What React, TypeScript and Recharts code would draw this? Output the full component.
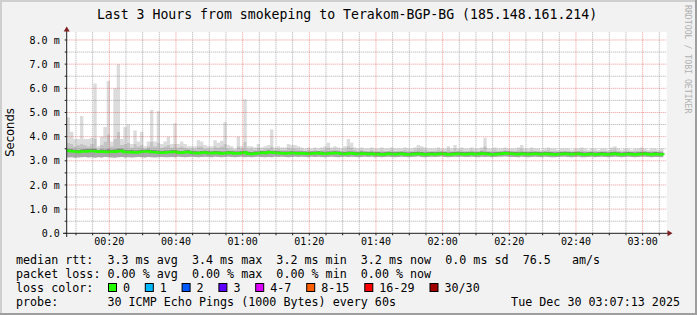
import { ComposedChart, Area, Line, XAxis, YAxis, CartesianGrid, ReferenceLine } from "recharts";

// minutes after midnight of the first sample (00:07:13)
const START = 7 + 13 / 60;

// median rtt per minute, ms
const medianRtt = [
  3.42, 3.40, 3.38, 3.36, 3.38, 3.39, 3.40, 3.41, 3.40, 3.37,
  3.38, 3.37, 3.36, 3.38, 3.37, 3.40, 3.41, 3.36, 3.35, 3.36,
  3.34, 3.35, 3.37, 3.38, 3.39, 3.36, 3.35, 3.34, 3.33, 3.34,
  3.35, 3.36, 3.37, 3.34, 3.33, 3.35, 3.36, 3.33, 3.32, 3.31,
  3.33, 3.34, 3.32, 3.31, 3.33, 3.32, 3.30, 3.31, 3.33, 3.32,
  3.30, 3.31, 3.32, 3.34, 3.29, 3.28, 3.30, 3.31, 3.33, 3.32,
  3.35, 3.34, 3.33, 3.32, 3.31, 3.30, 3.31, 3.32, 3.31, 3.30,
  3.31, 3.30, 3.29, 3.30, 3.31, 3.32, 3.30, 3.29, 3.30, 3.31,
  3.32, 3.31, 3.29, 3.28, 3.30, 3.31, 3.29, 3.28, 3.30, 3.29,
  3.28, 3.29, 3.27, 3.28, 3.26, 3.27, 3.29, 3.28, 3.27, 3.28,
  3.29, 3.27, 3.26, 3.27, 3.28, 3.29, 3.28, 3.26, 3.27, 3.28,
  3.27, 3.28, 3.29, 3.28, 3.26, 3.27, 3.28, 3.29, 3.28, 3.27,
  3.28, 3.29, 3.27, 3.28, 3.30, 3.29, 3.28, 3.26, 3.27, 3.28,
  3.29, 3.31, 3.30, 3.29, 3.28, 3.27, 3.29, 3.28, 3.27, 3.28,
  3.29, 3.28, 3.27, 3.29, 3.28, 3.27, 3.26, 3.27, 3.28, 3.29,
  3.28, 3.27, 3.28, 3.29, 3.27, 3.26, 3.27, 3.28, 3.26, 3.27,
  3.28, 3.27, 3.26, 3.28, 3.29, 3.27, 3.26, 3.27, 3.28, 3.27,
  3.26, 3.27, 3.28, 3.29, 3.27, 3.26, 3.28, 3.27, 3.26, 3.24,
];

// slowest ping per minute
const maxRtt = [
  4.8, 4.2, 3.9, 3.9, 4.85, 3.9, 3.9, 3.95, 6.2, 3.6,
  4.0, 4.4, 6.3, 3.8, 6.0, 7.0, 3.9, 4.4, 4.5, 3.7,
  4.25, 3.8, 4.2, 3.6, 3.8, 5.1, 3.8, 5.05, 3.7, 3.8,
  4.0, 3.7, 4.55, 3.7, 3.8, 3.7, 3.6, 3.6, 3.6, 3.85,
  3.8, 3.65, 3.6, 3.6, 3.85, 3.75, 3.83, 4.6, 3.65, 3.6,
  3.5, 4.0, 3.6, 5.55, 3.6, 3.6, 3.55, 3.7, 3.55, 3.6,
  3.65, 4.3, 3.55, 3.6, 3.55, 3.55, 3.7, 3.65, 3.65, 3.6,
  3.55, 3.5, 3.55, 3.5, 3.55, 3.5, 3.55, 3.6, 3.75, 3.55,
  3.6, 3.55, 3.5, 3.6, 3.9, 3.75, 3.55, 3.5, 3.55, 3.5,
  3.5, 3.55, 3.5, 3.5, 3.55, 3.5, 3.5, 3.55, 3.5, 3.5,
  3.5, 3.55, 3.5, 3.5, 3.55, 3.65, 3.6, 3.55, 3.5, 3.5,
  3.5, 3.55, 3.5, 3.5, 3.6, 3.5, 3.65, 3.5, 3.55, 3.5,
  3.5, 3.55, 3.5, 3.5, 3.55, 3.95, 3.5, 3.5, 3.55, 3.5,
  3.5, 3.55, 3.5, 3.5, 3.5, 3.55, 3.65, 3.5, 3.5, 3.55,
  3.5, 3.5, 3.45, 3.5, 3.55, 3.5, 3.5, 3.45, 3.5, 3.5,
  3.5, 3.45, 3.5, 3.5, 3.55, 3.5, 3.45, 3.5, 3.5, 3.45,
  3.5, 3.5, 3.45, 3.55, 3.6, 3.5, 3.45, 3.5, 3.5, 3.45,
  3.5, 3.5, 3.55, 3.5, 3.45, 3.5, 3.5, 3.45, 3.5, 3.5,
];

// top of the medium smoke band
const upperRtt = [
  3.75, 3.7, 3.6, 3.65, 3.7, 3.65, 3.6, 3.7, 3.9, 3.5,
  3.65, 3.8, 4.1, 3.6, 3.9, 4.2, 3.65, 3.7, 3.75, 3.55,
  3.7, 3.6, 3.65, 3.5, 3.6, 3.8, 3.6, 3.75, 3.55, 3.6,
  3.65, 3.55, 3.7, 3.55, 3.6, 3.55, 3.5, 3.5, 3.5, 3.6,
  3.6, 3.5, 3.5, 3.48, 3.6, 3.55, 3.6, 3.7, 3.5, 3.48,
  3.45, 3.6, 3.5, 3.8, 3.48, 3.5, 3.45, 3.55, 3.45, 3.5,
  3.5, 3.6, 3.45, 3.5, 3.45, 3.45, 3.55, 3.5, 3.5, 3.48,
  3.45, 3.42, 3.45, 3.42, 3.45, 3.42, 3.45, 3.48, 3.55, 3.45,
  3.48, 3.45, 3.42, 3.48, 3.6, 3.55, 3.45, 3.42, 3.45, 3.42,
  3.42, 3.45, 3.42, 3.42, 3.45, 3.42, 3.42, 3.45, 3.42, 3.43,
  3.42, 3.45, 3.42, 3.42, 3.45, 3.5, 3.48, 3.45, 3.42, 3.42,
  3.42, 3.45, 3.42, 3.43, 3.48, 3.42, 3.5, 3.42, 3.45, 3.42,
  3.42, 3.45, 3.42, 3.42, 3.45, 3.6, 3.42, 3.42, 3.45, 3.42,
  3.42, 3.45, 3.42, 3.43, 3.42, 3.45, 3.5, 3.42, 3.42, 3.45,
  3.42, 3.42, 3.4, 3.42, 3.45, 3.42, 3.42, 3.4, 3.42, 3.42,
  3.42, 3.4, 3.42, 3.42, 3.45, 3.42, 3.4, 3.42, 3.42, 3.4,
  3.42, 3.42, 3.4, 3.45, 3.48, 3.42, 3.4, 3.42, 3.42, 3.4,
  3.42, 3.42, 3.45, 3.42, 3.4, 3.42, 3.42, 3.4, 3.42, 3.42,
];

// top of the dark core just above the median
const coreRtt = [
  3.5, 3.48, 3.46, 3.45, 3.47, 3.48, 3.49, 3.5, 3.5, 3.45,
  3.47, 3.46, 3.48, 3.46, 3.47, 3.5, 3.5, 3.45, 3.44, 3.45,
  3.43, 3.44, 3.46, 3.46, 3.47, 3.45, 3.44, 3.43, 3.42, 3.43,
  3.43, 3.44, 3.45, 3.42, 3.41, 3.43, 3.44, 3.41, 3.4, 3.39,
  3.41, 3.42, 3.4, 3.39, 3.41, 3.4, 3.38, 3.39, 3.41, 3.4,
  3.38, 3.39, 3.4, 3.42, 3.37, 3.36, 3.38, 3.39, 3.41, 3.4,
  3.43, 3.42, 3.41, 3.4, 3.39, 3.38, 3.39, 3.4, 3.39, 3.38,
  3.39, 3.38, 3.37, 3.38, 3.39, 3.4, 3.38, 3.37, 3.38, 3.39,
  3.4, 3.39, 3.37, 3.36, 3.38, 3.39, 3.37, 3.36, 3.38, 3.37,
  3.36, 3.37, 3.35, 3.36, 3.34, 3.35, 3.37, 3.36, 3.35, 3.36,
  3.37, 3.35, 3.34, 3.35, 3.36, 3.37, 3.36, 3.34, 3.35, 3.36,
  3.35, 3.36, 3.37, 3.36, 3.34, 3.35, 3.36, 3.37, 3.36, 3.35,
  3.36, 3.37, 3.35, 3.36, 3.38, 3.37, 3.36, 3.34, 3.35, 3.36,
  3.37, 3.39, 3.38, 3.37, 3.36, 3.35, 3.37, 3.36, 3.35, 3.36,
  3.37, 3.36, 3.35, 3.37, 3.36, 3.35, 3.34, 3.35, 3.36, 3.37,
  3.36, 3.35, 3.36, 3.37, 3.35, 3.34, 3.35, 3.36, 3.34, 3.35,
  3.36, 3.35, 3.34, 3.36, 3.37, 3.35, 3.34, 3.35, 3.36, 3.35,
  3.34, 3.35, 3.36, 3.37, 3.35, 3.34, 3.36, 3.35, 3.34, 3.32,
];

// fastest ping per minute
const minRtt = [
  3.14, 3.15, 3.13, 3.14, 3.15, 3.16, 3.14, 3.15, 3.13, 3.15,
  3.14, 3.16, 3.15, 3.14, 3.13, 3.15, 3.16, 3.14, 3.15, 3.14,
  3.15, 3.16, 3.15, 3.14, 3.16, 3.15, 3.14, 3.15, 3.16, 3.15,
  3.15, 3.16, 3.15, 3.17, 3.16, 3.15, 3.16, 3.17, 3.16, 3.15,
  3.16, 3.17, 3.16, 3.15, 3.17, 3.16, 3.15, 3.16, 3.17, 3.16,
  3.15, 3.16, 3.17, 3.15, 3.16, 3.15, 3.16, 3.17, 3.16, 3.15,
  3.16, 3.15, 3.17, 3.16, 3.17, 3.16, 3.15, 3.16, 3.17, 3.16,
  3.17, 3.16, 3.15, 3.17, 3.16, 3.17, 3.16, 3.15, 3.16, 3.17,
  3.16, 3.15, 3.16, 3.17, 3.16, 3.17, 3.16, 3.15, 3.16, 3.17,
  3.16, 3.17, 3.15, 3.16, 3.15, 3.16, 3.17, 3.16, 3.15, 3.16,
  3.17, 3.16, 3.15, 3.16, 3.17, 3.18, 3.16, 3.15, 3.16, 3.17,
  3.16, 3.17, 3.18, 3.16, 3.15, 3.16, 3.17, 3.16, 3.17, 3.16,
  3.16, 3.17, 3.16, 3.15, 3.17, 3.16, 3.17, 3.15, 3.16, 3.17,
  3.17, 3.18, 3.17, 3.16, 3.16, 3.15, 3.17, 3.16, 3.15, 3.16,
  3.17, 3.16, 3.15, 3.17, 3.16, 3.15, 3.15, 3.16, 3.17, 3.17,
  3.16, 3.15, 3.16, 3.17, 3.15, 3.15, 3.16, 3.17, 3.15, 3.16,
  3.17, 3.16, 3.15, 3.16, 3.17, 3.16, 3.15, 3.16, 3.17, 3.16,
  3.15, 3.16, 3.17, 3.17, 3.16, 3.15, 3.16, 3.16, 3.15, 3.14,
];

const xGrid = [10, 15, 20, 25, 30, 35, 40, 45, 50, 55, 60, 65, 70, 75, 80, 85, 90, 95, 100,
  105, 110, 115, 120, 125, 130, 135, 140, 145, 150, 155, 160, 165, 170, 175, 180, 185];
const yGrid = [0, 0.5, 1, 1.5, 2, 2.5, 3, 3.5, 4, 4.5, 5, 5.5, 6, 6.5, 7, 7.5, 8];

const lossLabels = ["0", "1", "2", "3", "4-7", "8-15", "16-29", "30/30"];
const lossColors = ["#26ff00", "#00b8ff", "#0059ff", "#5e00ff", "#dd00ff", "#ff5e00", "#ff0000", "#a10000"];

const legendLines = [
  "median rtt:  3.3 ms avg  3.4 ms max  3.2 ms min  3.2 ms now  0.0 ms sd  76.5   am/s",
  "packet loss: 0.00 % avg  0.00 % max  0.00 % min  0.00 % now",
  "loss color:",
  "probe:       30 ICMP Echo Pings (1000 Bytes) every 60s",
];

const rows = medianRtt.map((m, i) => ({
  t: START + i,
  med: m,
  max: maxRtt[i],
  up: upperRtt[i],
  core: coreRtt[i],
  min: minRtt[i],
}));

const W = 697;
const H = 315;
const MONO = "'DejaVu Sans Mono', monospace";
const CW = 7.1; // legend char width

const pad = (n: number) => String(n).padStart(2, "0");
const fmtTime = (m: number) => (m % 20 === 0 ? `${pad(Math.floor(m / 60))}:${pad(m % 60)}` : "");
const fmtMs = (v: number) => (Number.isInteger(v) ? (v === 0 ? "0.0" : `${v.toFixed(1)} m`) : "");

function LossLegend() {
  let x = 108;
  return (
    <g>
      {lossLabels.map((l, i) => {
        const bx = x;
        x = bx + 15 + l.length * CW + 14.7;
        return (
          <g key={l}>
            <rect x={bx + 0.5} y={283.5} width={8} height={8} fill={lossColors[i]} stroke="#000" strokeWidth={1} />
            <text x={bx + 15} y={291.5} fontFamily={MONO} fontSize={11.7} fill="#000">{l}</text>
          </g>
        );
      })}
    </g>
  );
}

export default function App() {
  return (
    <div style={{ position: "absolute", left: 0, top: 0, width: W, height: H, background: "#f2f2f2" }}>
      <ComposedChart width={W} height={H} data={rows} margin={{ top: 32, right: 30.3, left: 0, bottom: 51.7 }}>
        <CartesianGrid fill="#ffffff" horizontal={false} vertical={false} />
        <XAxis
          type="number"
          dataKey="t"
          domain={[START, START + 180]}
          allowDataOverflow
          ticks={xGrid}
          interval={0}
          tickFormatter={fmtTime}
          height={30}
          axisLine={false}
          tickSize={2}
          tickMargin={3}
          tickLine={{ stroke: "#1f1f1f" }}
          tick={{ fontFamily: MONO, fontSize: 10, fill: "#000" }}
        />
        <YAxis
          type="number"
          domain={[0, 8.33]}
          allowDataOverflow
          ticks={yGrid}
          interval={0}
          tickFormatter={fmtMs}
          width={66.7}
          axisLine={false}
          tickSize={2}
          tickMargin={5}
          tickLine={{ stroke: "#1f1f1f" }}
          tick={{ fontFamily: MONO, fontSize: 10, fill: "#000" }}
        />
        <Area type="stepAfter" dataKey={(d: any) => [d.up, d.max]} fill="#dcdcdc" fillOpacity={1} stroke="none" isAnimationActive={false} />
        <Area type="stepAfter" dataKey={(d: any) => [d.core, d.up]} fill="#c4c4c4" fillOpacity={1} stroke="none" isAnimationActive={false} />
        <Area type="stepAfter" dataKey={(d: any) => [d.min, d.core]} fill="#a9a9a9" fillOpacity={1} stroke="none" isAnimationActive={false} />
        <Area type="stepAfter" dataKey={(d: any) => [d.med, d.core]} fill="#808080" fillOpacity={1} stroke="none" isAnimationActive={false} />
        <Line type="stepAfter" dataKey="med" stroke="#26ff00" strokeWidth={2.5} dot={false} isAnimationActive={false} />
        {yGrid.filter((v) => v > 0).map((v) => (
          <ReferenceLine key={`h${v}`} y={v} stroke={Number.isInteger(v) ? "rgba(222,79,79,0.6)" : "rgba(143,143,143,0.75)"} strokeDasharray="1 1" />
        ))}
        {xGrid.map((m) => (
          <ReferenceLine key={`v${m}`} x={m} stroke={m % 20 === 0 ? "rgba(222,79,79,0.6)" : "rgba(143,143,143,0.75)"} strokeDasharray="1 1" />
        ))}
      </ComposedChart>
      <svg width={W} height={H} style={{ position: "absolute", left: 0, top: 0, pointerEvents: "none" }}>
        <rect x={0} y={0} width={W} height={2} fill="#cfcfcf" />
        <rect x={0} y={0} width={2} height={H} fill="#cfcfcf" />
        <rect x={W - 2} y={0} width={2} height={H} fill="#9e9e9e" />
        <rect x={0} y={H - 2} width={W} height={2} fill="#9e9e9e" />
        <line x1={66.7} y1={30} x2={66.7} y2={237} stroke="#1f1f1f" strokeWidth={1} />
        <line x1={63} y1={233.3} x2={668} y2={233.3} stroke="#1f1f1f" strokeWidth={1} />
        <polygon points="63.7,31.5 69.7,31.5 66.7,26.5" fill="#801f1f" />
        <polygon points="667.5,230.3 667.5,236.3 672.5,233.3" fill="#801f1f" />
        <text x={347} y={18.8} textAnchor="middle" fontFamily={MONO} fontSize={13.2} fill="#000">
          Last 3 Hours from smokeping to Terakom-BGP-BG (185.148.161.214)
        </text>
        <text x={14} y={132.5} transform="rotate(-90 14 132.5)" textAnchor="middle" fontFamily="'DejaVu Sans', sans-serif" fontSize={11.6} fill="#000">
          Seconds
        </text>
        <text x={685} y={5} transform="rotate(90 685 5)" fontFamily={MONO} fontSize={8.2} fill="#b0b0b0">
          RRDTOOL / TOBI OETIKER
        </text>
        {legendLines.map((l, i) => (
          <text key={i} x={16} y={263.5 + i * 14} fontFamily={MONO} fontSize={11.7} fill="#000" xmlSpace="preserve" style={{ whiteSpace: "pre" }}>
            {l}
          </text>
        ))}
        <LossLegend />
        <text x={680} y={305.5} textAnchor="end" fontFamily={MONO} fontSize={11.7} fill="#000">
          Tue Dec 30 03:07:13 2025
        </text>
      </svg>
    </div>
  );
}
